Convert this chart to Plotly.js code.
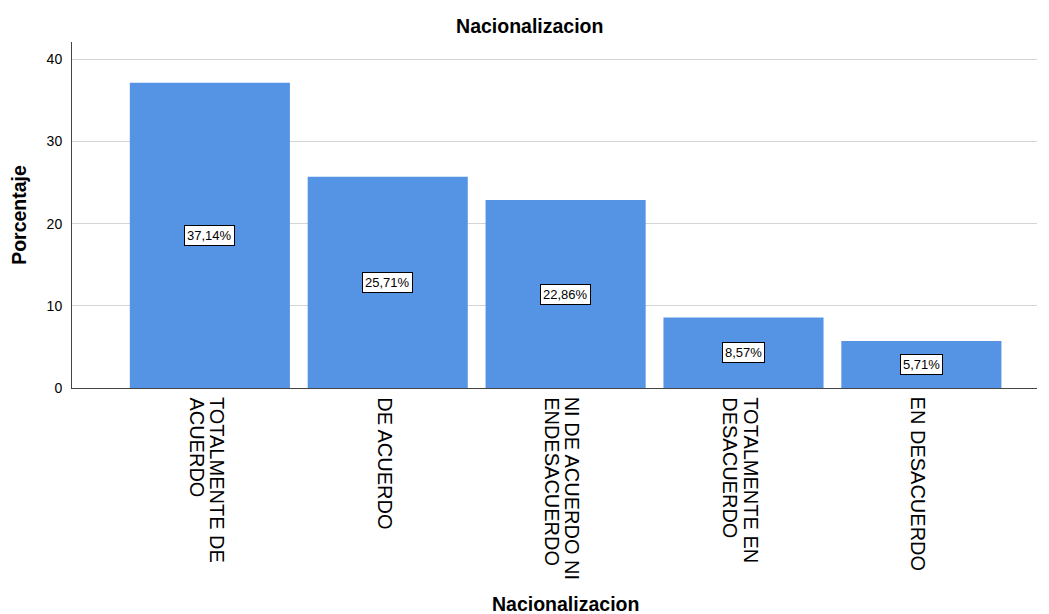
<!DOCTYPE html>
<html>
<head>
<meta charset="utf-8">
<script src="https://cdn.plot.ly/plotly-3.0.1.min.js"></script>
<style>html,body{margin:0;padding:0;background:#fff;}#chart{width:1049px;height:614px;}</style>
</head>
<body>
<div id="chart"></div>
<script>
const categories = ["TOTALMENTE DE\nACUERDO", "DE ACUERDO", "NI DE ACUERDO NI\nENDESACUERDO", "TOTALMENTE EN\nDESACUERDO", "EN DESACUERDO"];
const values = [37.14, 25.71, 22.86, 8.57, 5.71];
const yTicks = [0, 10, 20, 30, 40];

const FONT = "Liberation Sans, Arial, sans-serif";
const xIdx = categories.map((c, i) => i);

const ML = 72, MR = 12, MT = 42, MB = 226, W = 1049, H = 614;
const plotW = W - ML - MR, plotH = H - MT - MB;

const trace = {
  type: "bar",
  x: xIdx,
  y: values,
  marker: {color: "#5594e4", line: {width: 0}},
  hoverinfo: "none",
  width: 0.9
};

const annotations = values.map((v, i) => ({
  x: i, y: v / 2, xref: "x", yref: "y",
  text: v.toFixed(2).replace(".", ",") + "%",
  showarrow: false,
  font: {family: FONT, size: 13, color: "#000"},
  bgcolor: "#ffffff",
  bordercolor: "#000000",
  borderwidth: 1,
  borderpad: 2
}));

// category labels, one annotation per line, rotated to read top-to-bottom
const LINE_GAP = 20.5;
categories.forEach((c, i) => {
  const lines = c.split("\n");
  const n = lines.length;
  lines.forEach((ln, k) => {
    const off = ((n - 1) / 2 - k) * LINE_GAP - 3;
    annotations.push({
      x: i, y: 0, xref: "x", yref: "paper",
      text: ln, textangle: 90,
      showarrow: false,
      xanchor: "center", yanchor: "top",
      xshift: off, yshift: -7,
      font: {family: FONT, size: 20, color: "#000"}
    });
  });
});

// x-axis title
annotations.push({
  x: (565 - ML) / plotW, xref: "paper",
  y: (H - MB - 604) / plotH, yref: "paper",
  xanchor: "center", yanchor: "middle",
  text: "<b>Nacionalizacion</b>", showarrow: false,
  font: {family: FONT, size: 19.5, color: "#000"}
});

const layout = {
  width: W, height: H,
  margin: {l: ML, r: MR, t: MT, b: MB, pad: 0},
  paper_bgcolor: "#ffffff",
  plot_bgcolor: "#ffffff",
  showlegend: false,
  title: {text: "<b>Nacionalizacion</b>", font: {family: FONT, size: 19.5, color: "#000"}, x: 0.505, xanchor: "center", y: 0.958, yanchor: "middle"},
  xaxis: {
    range: [-0.775, 4.65],
    tickmode: "array",
    tickvals: xIdx,
    showticklabels: false,
    ticks: "",
    showgrid: false,
    zeroline: false,
    showline: true,
    linecolor: "#444444",
    linewidth: 1
  },
  yaxis: {
    range: [0, 42.1],
    tickmode: "array",
    tickvals: yTicks,
    ticktext: yTicks.map(String),
    ticks: "",
    showgrid: true,
    gridcolor: "#d4d4d4",
    gridwidth: 1,
    zeroline: false,
    showline: true,
    linecolor: "#444444",
    linewidth: 1,
    tickfont: {family: FONT, size: 14, color: "#000"},
    ticklabelstandoff: 6,
    title: {text: "<b>Porcentaje</b>", font: {family: FONT, size: 19.5, color: "#000"}, standoff: 14}
  },
  annotations: annotations
};

Plotly.newPlot("chart", [trace], layout, {displayModeBar: false, staticPlot: true});
</script>
</body>
</html>
